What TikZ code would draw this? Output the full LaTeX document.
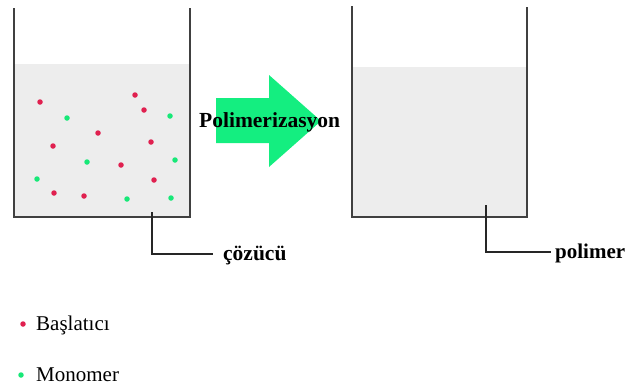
\documentclass[tikz,border=0pt]{standalone}
\usepackage{fontspec}
\setmainfont{Liberation Serif}
\begin{document}
\begin{tikzpicture}[x=1pt,y=-1pt,
  wall/.style={draw=black!75,line width=1.8pt},
  liquid/.style={fill=black!7},
  leader/.style={draw=black!85,line width=1.3pt},
  lbl/.style={font=\fontsize{21.5}{25}\selectfont\bfseries,inner sep=0pt,anchor=base west},
  legend/.style={font=\fontsize{21}{25}\selectfont,inner sep=0pt,anchor=base west},
  ini/.style={circle,fill=ini,inner sep=0pt,minimum size=5.5pt},
  mono/.style={circle,fill=mon,inner sep=0pt,minimum size=5.5pt}]
\definecolor{ini}{HTML}{E0204F}
\definecolor{mon}{HTML}{18E878}
\definecolor{arr}{HTML}{14EE80}
\useasboundingbox (0,0) rectangle (627,388);

% left beaker: solution of initiator and monomer in solvent
\fill[liquid] (14,64) rectangle (190,217);
\draw[wall] (14,8) -- (14,217) -- (190,217) -- (190,8);
\foreach \p [count=\i] in {(40,102),(135,95),(144,110),(98,133),(53,146),(151,142),(121,165),(154,180),(54,193),(84,196)}
  \node[ini] (r\i) at \p {};
\foreach \p [count=\i] in {(67,118),(170,116),(87,162),(175,160),(37,179),(127,199),(171,198)}
  \node[mono] (g\i) at \p {};

% right beaker: polymer
\fill[liquid] (352,67) rectangle (527,217);
\draw[wall] (352,6) -- (352,217) -- (527,217) -- (527,7);

% reaction arrow
\fill[arr] (216,98) -- (269,98) -- (269,75) -- (321,121) -- (269,167) -- (269,143) -- (216,143) -- cycle;
\node[lbl] (poly) at (199,127) {Polimerizasyon};

% leader labels
\node[lbl] (solv) at (223,260) {çözücü};
\coordinate (sa) at (152,212);
\draw[leader] (sa) |- ([xshift=-10pt]solv.west |- 0,254);
\node[lbl,font=\fontsize{21}{25}\selectfont\bfseries] (pol) at (555,258) {polimer};
\coordinate (pa) at (486,205);
\draw[leader] (pa) |- ([xshift=-4pt]pol.west |- 0,252);

% legend
\node[ini] (li) at (23,324) {};
\node[legend] (lit) at (36,330) {Başlatıcı};
\node[mono] (lm) at (21,375) {};
\node[legend] (lmt) at (36,381) {Monomer};
\end{tikzpicture}
\end{document}
